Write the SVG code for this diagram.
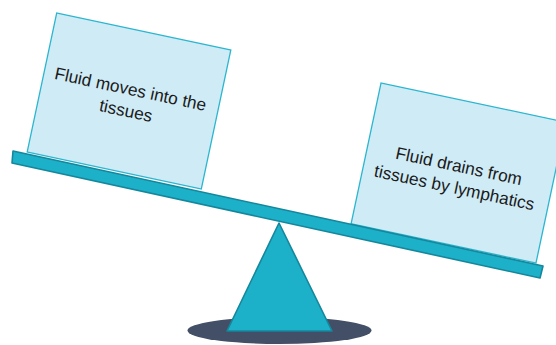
<svg xmlns="http://www.w3.org/2000/svg" width="556" height="345" viewBox="0 0 556 345">
  <style>
    .card { fill: #cfebf6; stroke: #2bb6cf; stroke-width: 1.3; }
    .label { font-family: "Liberation Sans", Arial, sans-serif; font-size: 17.3px; fill: #1a1a1a; text-anchor: middle; }
    .teal { fill: #1db1c9; stroke: #14879c; stroke-width: 1.6; stroke-linejoin: round; }
  </style>
  <rect width="556" height="345" fill="#ffffff"/>

  <!-- shadow under the pivot -->
  <ellipse id="shadow" cx="279.5" cy="330.5" rx="92" ry="13.5" fill="#434f66"/>

  <!-- left load -->
  <g id="left-box" transform="translate(129 101) rotate(12)">
    <rect class="card" x="-89" y="-71" width="178" height="142"/>
    <text class="label" x="-1" y="-6">Fluid moves into the</text>
    <text class="label" x="-1" y="16">tissues</text>
  </g>

  <!-- right load -->
  <g id="right-box" transform="translate(458.5 173) rotate(12)">
    <rect class="card" x="-94.5" y="-72" width="189" height="144"/>
    <text class="label" x="-1" y="-1">Fluid drains from</text>
    <text class="label" x="-1" y="21">tissues by lymphatics</text>
  </g>

  <!-- tilted beam -->
  <g id="beam">
    <polygon class="teal" points="13,151 543,266 540,278 12,163"/>
  </g>

  <!-- pivot -->
  <g id="fulcrum">
    <polygon class="teal" points="279,223 332,331 227,331"/>
  </g>
</svg>
